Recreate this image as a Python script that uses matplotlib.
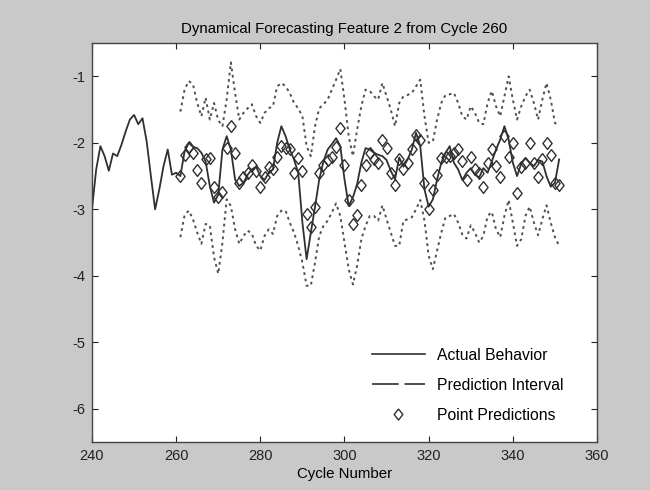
import matplotlib
matplotlib.use('Agg')
import matplotlib.pyplot as plt
from matplotlib.lines import Line2D
import numpy as np

plt.rcParams['font.family'] = ['Liberation Sans', 'DejaVu Sans']
plt.rcParams['axes.unicode_minus'] = False

# actual feature values, cycles 240..351
cycles = np.arange(240, 352)
actual = [
    -3.00, -2.40, -2.05, -2.20, -2.42, -2.16, -2.20, -2.03, -1.83, -1.65,
    -1.58, -1.72, -1.63, -1.98, -2.50, -3.00, -2.70, -2.35, -2.10, -2.48,
    -2.45, -2.50, -2.13, -2.00, -2.06, -2.08, -2.15, -2.28, -2.65, -2.90,
    -2.78, -2.10, -1.90, -2.10, -2.55, -2.65, -2.60, -2.48, -2.40, -2.36,
    -2.50, -2.56, -2.45, -2.40, -2.00, -1.75, -1.90, -2.10, -2.25, -2.45,
    -3.20, -3.75, -3.35, -2.96, -2.55, -2.28, -2.10, -2.02, -1.93, -2.05,
    -2.55, -2.95, -2.82, -2.62, -2.30, -2.08, -2.10, -2.15, -2.18, -2.20,
    -2.26, -2.42, -2.55, -2.22, -2.36, -2.25, -2.10, -1.85, -2.05, -2.70,
    -2.96, -2.85, -2.55, -2.30, -2.15, -2.05, -2.30, -2.40, -2.56, -2.45,
    -2.38, -2.48, -2.52, -2.38, -2.45, -2.28, -2.10, -1.95, -1.75, -1.95,
    -2.30, -2.50, -2.31, -2.23, -2.30, -2.35, -2.26, -2.28, -2.50, -2.66,
    -2.60, -2.25,
]

# forecasts, cycles 261..351
pred_cycles = np.arange(261, 352)
point_pred = [
    -2.50, -2.18, -2.07, -2.16, -2.41, -2.60, -2.25, -2.23, -2.66, -2.81,
    -2.74, -2.08, -1.75, -2.16, -2.61, -2.51, -2.45, -2.33, -2.43, -2.66,
    -2.51, -2.36, -2.40, -2.21, -2.05, -2.08, -2.10, -2.46, -2.23, -2.43,
    -3.07, -3.27, -2.96, -2.46, -2.33, -2.26, -2.21, -2.06, -1.78, -2.33,
    -2.86, -3.22, -3.09, -2.64, -2.33, -2.15, -2.25, -2.31, -1.95, -2.08,
    -2.46, -2.64, -2.25, -2.40, -2.30, -2.10, -1.88, -1.95, -2.61, -2.99,
    -2.71, -2.48, -2.23, -2.21, -2.20, -2.16, -2.10, -2.28, -2.56, -2.21,
    -2.40, -2.45, -2.66, -2.30, -2.10, -2.35, -2.51, -1.90, -2.21, -2.00,
    -2.76, -2.36, -2.31, -2.00, -2.30, -2.51, -2.25, -2.00, -2.18, -2.61,
    -2.64,
]
upper = [
    -1.53, -1.20, -1.07, -1.12, -1.40, -1.60, -1.32, -1.65, -1.40, -1.66,
    -1.75, -1.35, -0.79, -1.25, -1.65, -1.55, -1.48, -1.42, -1.60, -1.70,
    -1.55, -1.48, -1.45, -1.15, -1.10, -1.15, -1.25, -1.40, -1.48, -1.60,
    -2.05, -2.20, -1.75, -1.48, -1.42, -1.35, -1.20, -1.05, -0.89, -1.35,
    -1.90, -2.20, -1.80, -1.45, -1.20, -1.22, -1.30, -1.35, -1.10, -1.30,
    -1.50, -1.75, -1.40, -1.30, -1.28, -1.25, -1.15, -1.05, -1.60, -2.00,
    -1.98, -1.65, -1.40, -1.28, -1.27, -1.25, -1.40, -1.60, -1.65, -1.45,
    -1.55, -1.70, -1.72, -1.40, -1.22, -1.45, -1.60, -1.30, -1.00, -1.35,
    -1.65, -1.45, -1.30, -1.20, -1.40, -1.65, -1.35, -1.10, -1.35, -1.70,
    -1.75,
]
lower = [
    -3.42, -3.09, -3.02, -3.15, -3.35, -3.52, -3.22, -3.24, -3.72, -3.97,
    -3.50, -2.85, -2.95, -3.30, -3.52, -3.40, -3.32, -3.37, -3.55, -3.62,
    -3.40, -3.30, -3.37, -3.10, -3.02, -3.02, -3.20, -3.35, -3.55, -3.80,
    -4.15, -4.15, -3.80, -3.40, -3.25, -3.17, -3.05, -2.91, -3.10, -3.50,
    -3.90, -4.13, -3.85, -3.45, -3.25, -3.10, -3.10, -3.17, -2.94, -3.15,
    -3.35, -3.55, -3.55, -3.17, -3.15, -3.12, -3.00, -2.86, -3.17, -3.70,
    -3.90, -3.62, -3.35, -3.12, -3.10, -3.07, -3.20, -3.38, -3.44, -3.24,
    -3.35, -3.50, -3.40, -3.10, -3.04, -3.30, -3.42, -3.10, -2.86, -3.20,
    -3.55, -3.45, -3.10, -2.96, -3.20, -3.39, -3.15, -2.94, -3.20, -3.42,
    -3.55,
]

# matlab-style diamond, a bit taller than wide
diamond = [(0, 1), (0.78, 0), (0, -1), (-0.78, 0), (0, 1)]

fig = plt.figure(figsize=(6.5, 4.9), dpi=100, facecolor='#c9c9c9')
ax = fig.add_axes([0.1415, 0.098, 0.777, 0.814])
ax.set_facecolor('white')

ax.plot(cycles, actual, color='#303030', lw=1.3)
ax.plot(pred_cycles, upper, color='#505050', lw=1.4, ls=(0, (1.4, 1.9)))
ax.plot(pred_cycles, lower, color='#505050', lw=1.4, ls=(0, (1.4, 1.9)))
ax.plot(pred_cycles, point_pred, ls='none', marker=diamond, ms=8.5,
        mfc='none', mec='#303030', mew=1.0)

ax.set_xlim(240, 360)
ax.set_ylim(-6.5, -0.5)
ax.set_xticks(np.arange(240, 361, 20))
ax.set_yticks([-6, -5, -4, -3, -2, -1])
ax.tick_params(direction='in', top=True, right=True, length=4,
               labelsize=10.5, colors='#222222', pad=5)
for s in ax.spines.values():
    s.set_color('#444444')
    s.set_linewidth(1.0)

ax.set_title('Dynamical Forecasting Feature 2 from Cycle 260', fontsize=10.8, pad=7)
ax.set_xlabel('Cycle Number', fontsize=10.8, labelpad=3)

handles = [
    Line2D([], [], color='#303030', lw=1.2),
    Line2D([], [], color='#303030', lw=1.2, ls=(0, (16, 3.5))),
    Line2D([], [], ls='none', marker=diamond, ms=8, mfc='none', mec='#303030'),
]
ax.legend(handles, ['Actual Behavior', 'Prediction Interval', 'Point Predictions'],
          loc='upper left', frameon=False, fontsize=11.3, handlelength=3.4,
          handletextpad=0.75, labelspacing=0.95, borderpad=0, borderaxespad=0,
          bbox_to_anchor=(0.554, 0.236))

fig.savefig('out.png', dpi=100, facecolor=fig.get_facecolor())
